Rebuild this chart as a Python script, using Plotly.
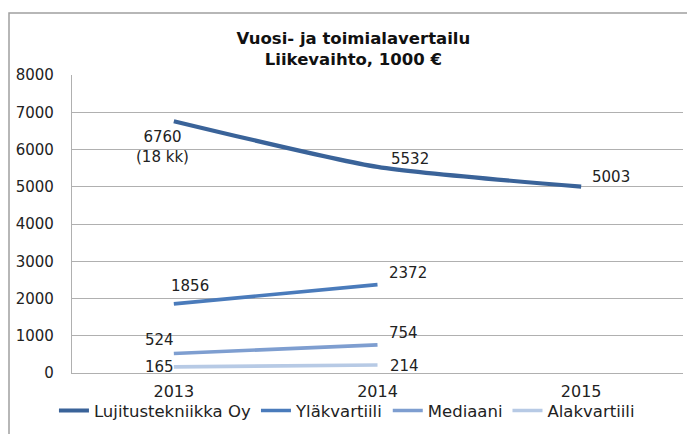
import plotly.graph_objects as go

years = ["2013", "2014", "2015"]
series_names = ["Lujitustekniikka Oy", "Yläkvartiili", "Mediaani", "Alakvartiili"]
company = [6760, 5532, 5003]
upper_q = [1856, 2372, None]
median = [524, 754, None]
lower_q = [165, 214, None]
colors = ["#3A6399", "#4A7BBB", "#7E9ED0", "#B7CAE5"]
widths = [4.2, 3.6, 3.6, 3.6]

label_text = {
    0: ["6760<br>(18 kk)", "5532", "5003"],
    1: ["1856", "2372", None],
    2: ["524", "754", None],
    3: ["165", "214", None],
}
label_off = {
    0: [(-11, 26), (32, -8), (30, -10)],
    1: [(16, -18), (30, -12), None],
    2: [(-14, -13), (26, -12), None],
    3: [(-14, 0), (27, 1), None],
}

all_vals = [company, upper_q, median, lower_q]
FONT = "DejaVu Sans, Liberation Sans, Arial, sans-serif"

fig = go.Figure()
for i, (name, vals) in enumerate(zip(series_names, all_vals)):
    fig.add_trace(go.Scatter(
        x=years, y=vals, name=name, mode="lines",
        line=dict(color=colors[i], width=widths[i], shape="spline", smoothing=0.6),
        connectgaps=False,
    ))

annotations = []
for i, vals in enumerate(all_vals):
    for j, v in enumerate(vals):
        t = label_text[i][j]
        if v is None or t is None:
            continue
        dx, dy = label_off[i][j]
        annotations.append(dict(
            x=j, y=v, xref="x", yref="y", text=t, showarrow=False,
            xshift=dx, yshift=-dy,
            font=dict(size=15, color="#222222", family=FONT),
            xanchor="center", yanchor="middle",
        ))

fig.update_layout(
    width=695, height=434,
    margin=dict(l=64, r=20, t=67, b=69, autoexpand=False),
    paper_bgcolor="white", plot_bgcolor="white",
    font=dict(family=FONT, size=15, color="#222222"),
    title=dict(
        text="<b>Vuosi- ja toimialavertailu<br>Liikevaihto, 1000 €</b>",
        x=0.497, xanchor="center",
        y=0.918, yanchor="top",
        font=dict(size=16.5, color="#111111"),
    ),
    showlegend=True,
    legend=dict(
        orientation="h", x=0.45, xanchor="center",
        y=-0.068, yanchor="top",
        font=dict(size=16.5),
        bgcolor="rgba(0,0,0,0)",
    ),
    annotations=annotations,
    shapes=[dict(
        type="rect", xref="paper", yref="paper",
        x0=(9 - 72) / 611, x1=(690 - 72) / 611,
        y0=-0.4, y1=(373 - 13) / 298,
        line=dict(color="#A0A0A0", width=1.5), layer="below",
    )],
)
fig.update_xaxes(
    type="category", range=[-0.5, 2.5], showgrid=False,
    showline=True, linecolor="#B0B0B0", linewidth=1.2,
    ticks="outside", ticklen=4, tickcolor="rgba(0,0,0,0)", tickfont=dict(size=16),
)
fig.update_yaxes(
    range=[0, 8000], dtick=1000, showgrid=True, gridcolor="#B0B0B0", gridwidth=1.2,
    showline=True, linecolor="#B0B0B0", linewidth=1.2, zeroline=False,
    ticks="outside", ticklen=14, tickcolor="rgba(0,0,0,0)", tickfont=dict(size=15),
)

fig.write_html("out.html")
